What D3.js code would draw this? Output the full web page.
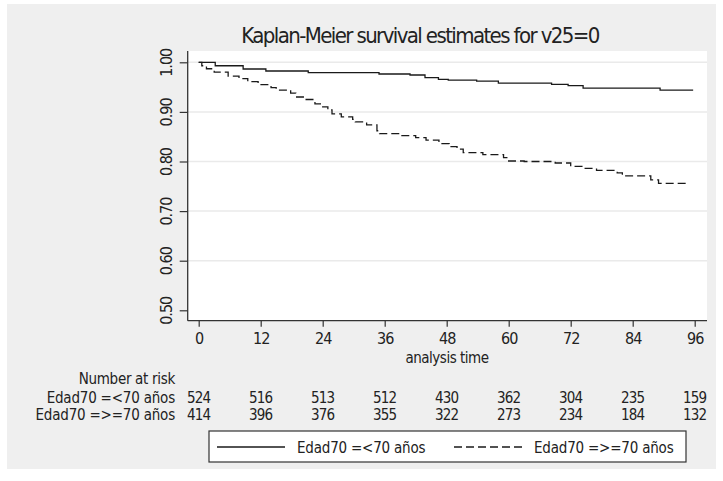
<!DOCTYPE html>
<html>
<head>
<meta charset="utf-8">
<script src="https://cdn.jsdelivr.net/npm/d3@7"></script>
<style>
  body { margin: 0; background: #fff; }
  svg text { font-family: "DejaVu Sans Condensed", "DejaVu Sans", sans-serif; fill: #222; }
</style>
</head>
<body>
<div id="chart"></div>
<script>
var w = 723;
var h = 481;

// Kaplan-Meier steps (time in months, survival after the step)
var timesLt70 = [0, 3.2, 8.6, 13, 21.2, 34.9, 40.9, 43.8, 46.4, 48.3, 53.8, 58, 68.3, 71.5, 74.4, 89.3, 95.7];
var survLt70  = [1, 0.993, 0.9865, 0.9825, 0.979, 0.9764, 0.9744, 0.969, 0.9657, 0.964, 0.962, 0.958, 0.9556, 0.953, 0.948, 0.944, 0.944];

var timesGe70 = [0, 0.6, 1.5, 3.0, 5.7, 7.8, 9.5, 11.5, 14.0, 15.0, 17.8, 18.8, 20.5, 22.5, 23.8, 25.0, 25.8, 27.6, 29.8, 30.3, 32.5, 34.5, 35.0, 39.0, 42.0, 44.0, 46.5, 48.5, 50.0, 51.2, 55.0, 59.0, 59.8, 63.0, 69.0, 72.0, 74.5, 77.0, 81.0, 82.0, 87.5, 89.0, 94.5];
var survGe70  = [1, 0.993, 0.987, 0.980, 0.972, 0.967, 0.961, 0.955, 0.949, 0.944, 0.938, 0.930, 0.925, 0.916, 0.910, 0.904, 0.896, 0.890, 0.885, 0.880, 0.874, 0.862, 0.856, 0.852, 0.848, 0.843, 0.836, 0.830, 0.825, 0.818, 0.814, 0.808, 0.801, 0.800, 0.797, 0.790, 0.786, 0.782, 0.777, 0.771, 0.763, 0.756, 0.756];

var xTicks = [0, 12, 24, 36, 48, 60, 72, 84, 96];
var yTicks = [0.5, 0.6, 0.7, 0.8, 0.9, 1.0];
var gridTicks = [0.6, 0.7, 0.8, 0.9, 1.0];

var riskLt70 = [524, 516, 513, 512, 430, 362, 304, 235, 159];
var riskGe70 = [414, 396, 376, 355, 322, 273, 234, 184, 132];
var groupLabels = ["Edad70 =<70 años", "Edad70 =>=70 años"];

var titleText = "Kaplan-Meier survival estimates for v25=0";

var plot = { left: 187.7, right: 707, top: 51, bottom: 320.7 };

var x = d3.scaleLinear().domain([0, 96]).range([198.7, 694.7]);
var y = d3.scaleLinear().domain([0.5, 1.0]).range([310.3, 62.3]);

draw();

function draw(){
    var svg = d3.select("#chart")
        .append("svg")
        .attr("width", w)
        .attr("height", h);

    // outer gray background
    svg.append("rect")
        .attr("x", 7).attr("y", 4)
        .attr("width", 709).attr("height", 465)
        .attr("fill", "#efefef");

    // plot region
    svg.append("rect")
        .attr("x", plot.left).attr("y", plot.top)
        .attr("width", plot.right - plot.left)
        .attr("height", plot.bottom - plot.top)
        .attr("fill", "#fff");

    // grid lines
    svg.selectAll(".grid")
        .data(gridTicks)
        .enter()
        .append("line")
        .attr("class", "grid")
        .attr("x1", plot.left).attr("x2", plot.right)
        .attr("y1", function(d){ return y(d); })
        .attr("y2", function(d){ return y(d); })
        .attr("stroke", "#eaeaea")
        .attr("stroke-width", 1.5);

    // y axis
    var yAxis = d3.axisLeft(y)
        .tickValues(yTicks)
        .tickSize(8)
        .tickFormat(d3.format(".2f"));
    var gy = svg.append("g")
        .attr("transform", "translate(" + plot.left + ",0)")
        .call(yAxis);
    gy.select(".domain").remove();
    gy.selectAll(".tick line").attr("stroke", "#333").attr("stroke-width", 1.2);
    gy.selectAll(".tick text")
        .attr("x", 0).attr("dy", null)
        .attr("transform", "translate(-16,0) rotate(-90)")
        .attr("text-anchor", "middle")
        .attr("y", 0)
        .style("font-size", "16px")
        .style("letter-spacing", "-1px")
        .style("font-family", "'DejaVu Sans Condensed', 'DejaVu Sans', sans-serif")
        .attr("fill", "#222");
    svg.append("line")
        .attr("x1", plot.left).attr("x2", plot.left)
        .attr("y1", plot.top).attr("y2", plot.bottom)
        .attr("stroke", "#333").attr("stroke-width", 1.3);

    // x axis
    var xAxis = d3.axisBottom(x)
        .tickValues(xTicks)
        .tickSize(6)
        .tickPadding(4);
    var gx = svg.append("g")
        .attr("transform", "translate(0," + plot.bottom + ")")
        .call(xAxis);
    gx.select(".domain").remove();
    gx.selectAll(".tick line").attr("stroke", "#333").attr("stroke-width", 1.2);
    gx.selectAll(".tick text")
        .attr("y", 23.5).attr("dy", null)
        .style("font-size", "16px")
        .style("letter-spacing", "-1px")
        .style("font-family", "'DejaVu Sans Condensed', 'DejaVu Sans', sans-serif")
        .attr("fill", "#222");
    svg.append("line")
        .attr("x1", plot.left).attr("x2", plot.right)
        .attr("y1", plot.bottom).attr("y2", plot.bottom)
        .attr("stroke", "#333").attr("stroke-width", 1.3);

    svg.append("text")
        .attr("x", 447).attr("y", 363)
        .attr("text-anchor", "middle")
        .style("font-size", "15px")
        .style("letter-spacing", "-0.5px")
        .text("analysis time");

    // survival curves
    var line = d3.line()
        .x(function(d){ return x(d[0]); })
        .y(function(d){ return y(d[1]); })
        .curve(d3.curveStepAfter);

    var curves = [
        { pts: d3.zip(timesLt70, survLt70), dash: null },
        { pts: d3.zip(timesGe70, survGe70), dash: "8,4" }
    ];

    svg.selectAll(".km")
        .data(curves)
        .enter()
        .append("path")
        .attr("class", "km")
        .attr("d", function(d){ return line(d.pts); })
        .attr("fill", "none")
        .attr("stroke", "#1a1a1a")
        .attr("stroke-width", 1.3)
        .attr("stroke-dasharray", function(d){ return d.dash; });

    // title
    svg.append("text")
        .attr("x", 420).attr("y", 43)
        .attr("text-anchor", "middle")
        .style("font-size", "22px")
        .style("letter-spacing", "-1.6px")
        .text(titleText);

    // number at risk table
    svg.append("text")
        .attr("x", 175).attr("y", 384)
        .attr("text-anchor", "end")
        .style("font-size", "15px")
        .style("letter-spacing", "-0.3px")
        .text("Number at risk");

    var rows = [riskLt70, riskGe70];
    var rowY = [403, 420];
    rows.forEach(function(r, i){
        svg.append("text")
            .attr("x", 175).attr("y", rowY[i])
            .attr("text-anchor", "end")
            .style("font-size", "15px")
            .style("letter-spacing", "-0.2px")
            .text(groupLabels[i]);
        svg.selectAll(".risk" + i)
            .data(r)
            .enter()
            .append("text")
            .attr("class", "risk" + i)
            .attr("x", function(d, j){ return x(xTicks[j]); })
            .attr("y", rowY[i])
            .attr("text-anchor", "middle")
            .style("font-size", "15px")
            .style("letter-spacing", "-0.8px")
            .text(function(d){ return d; });
    });

    // legend
    svg.append("rect")
        .attr("x", 209).attr("y", 431)
        .attr("width", 477).attr("height", 31)
        .attr("fill", "#fff")
        .attr("stroke", "#333")
        .attr("stroke-width", 1.2);

    var legendItems = [
        { x1: 217, x2: 285, tx: 297, dash: null, label: groupLabels[0] },
        { x1: 454, x2: 524, tx: 534, dash: "8,4", label: groupLabels[1] }
    ];
    legendItems.forEach(function(d){
        svg.append("line")
            .attr("x1", d.x1).attr("x2", d.x2)
            .attr("y1", 447).attr("y2", 447)
            .attr("stroke", "#1a1a1a")
            .attr("stroke-width", 1.3)
            .attr("stroke-dasharray", d.dash);
        svg.append("text")
            .attr("x", d.tx).attr("y", 453)
            .style("font-size", "15px")
            .style("letter-spacing", "-0.2px")
            .text(d.label);
    });
}
</script>
</body>
</html>
